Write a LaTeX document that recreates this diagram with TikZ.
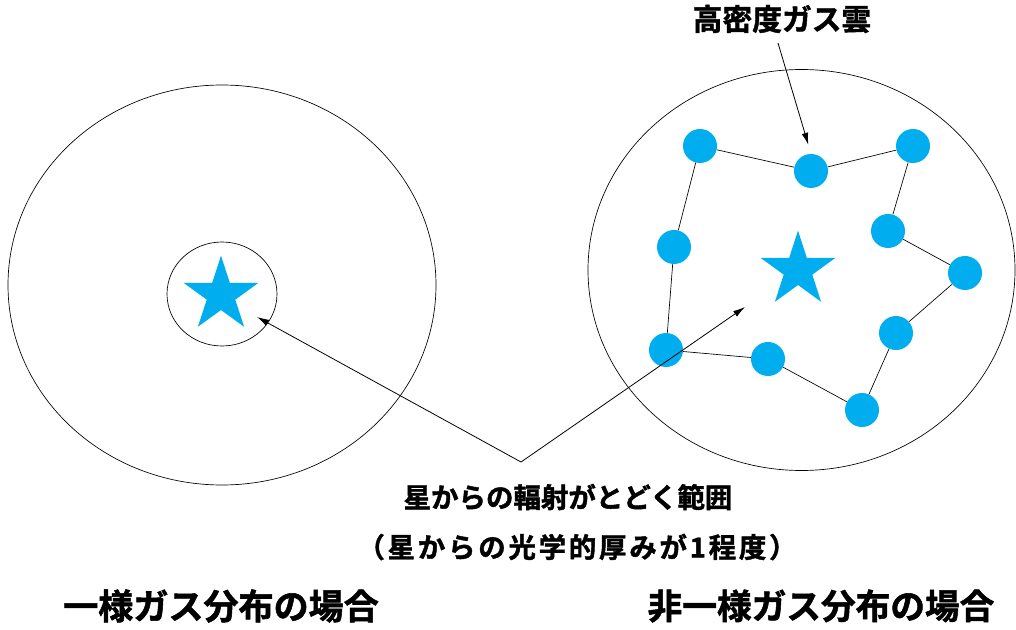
\documentclass[tikz,border=0pt]{standalone}
\usepackage{fontspec}
\newfontfamily\jp{Noto Sans CJK JP}[BoldFont={Noto Sans CJK JP Bold},BoldFeatures={FakeBold=1.5}]
\usetikzlibrary{shapes.geometric,arrows.meta}
\definecolor{gascyan}{HTML}{00AEEF}

\begin{document}
\begin{tikzpicture}[x=0.75pt,y=0.75pt,
  starshape/.style={star,star points=5,star point ratio=2.618,fill=gascyan,inner sep=0pt,minimum size=59pt},
  cloud/.style={circle,fill=gascyan,inner sep=0pt,minimum size=25.5pt},
  arr/.style={-{Latex[length=9pt,width=5pt]},line width=0.6pt},
  lbl/.style={inner sep=0pt,font=\jp\bfseries}]
\useasboundingbox (0,0) rectangle (1016,629);

% uniform gas
\draw[line width=0.5pt] (222,344) ellipse [x radius=214, y radius=200];
\draw[line width=0.5pt] (222,335) ellipse [x radius=55, y radius=52];
\node[starshape] (starL) at (221,334) {};

% clumpy gas
\draw[line width=0.5pt] (801.5,359) ellipse [x radius=213.5, y radius=200.5];
\node[starshape] (starR) at (798,359) {};

\node[cloud] (b1) at (700,483) {};
\node[cloud] (b2) at (811,458) {};
\node[cloud] (b3) at (913,483) {};
\node[cloud] (b4) at (888,398) {};
\node[cloud] (b5) at (965,356) {};
\node[cloud] (b6) at (896,296) {};
\node[cloud] (b7) at (862,219) {};
\node[cloud] (b8) at (768,270) {};
\node[cloud] (b9) at (666,279) {};
\node[cloud] (b10) at (674,382) {};

\draw[line width=0.5pt] (b1) -- (b2) -- (b3) -- (b4) -- (b5) -- (b6) -- (b7) -- (b8) -- (b9) -- (b10) -- (b1);

% labels
\node[lbl,font=\jp\bfseries\fontsize{22.3}{26}\selectfont] (cloudlbl) at (782,610) {高密度ガス雲};
\node[lbl,font=\jp\bfseries\fontsize{20.6}{24}\selectfont] (reach) at (568,132) {星からの輻射がとどく範囲};
\node[lbl,font=\jp\bfseries\fontsize{20.6}{24}\selectfont] (tau) at (577,82) {\addfontfeature{LetterSpace=10}（星からの光学的厚みが1程度）};
\node[lbl,font=\jp\bfseries\fontsize{26.3}{30}\selectfont] (caseL) at (221,23) {一様ガス分布の場合};
\node[lbl,font=\jp\bfseries\fontsize{26}{30}\selectfont] (caseR) at (821,23) {非一様ガス分布の場合};

% arrows
\coordinate (apex) at (521,167);
\coordinate (tipL) at (257,312);
\coordinate (tipR) at (745,322);
\coordinate (cloudtail) at (778,586);
\draw[arr] (apex) -- (tipL);
\draw[arr] (apex) -- (tipR);
\draw[arr,shorten >=7pt] (cloudtail) -- (b2.north);
\end{tikzpicture}
\end{document}
